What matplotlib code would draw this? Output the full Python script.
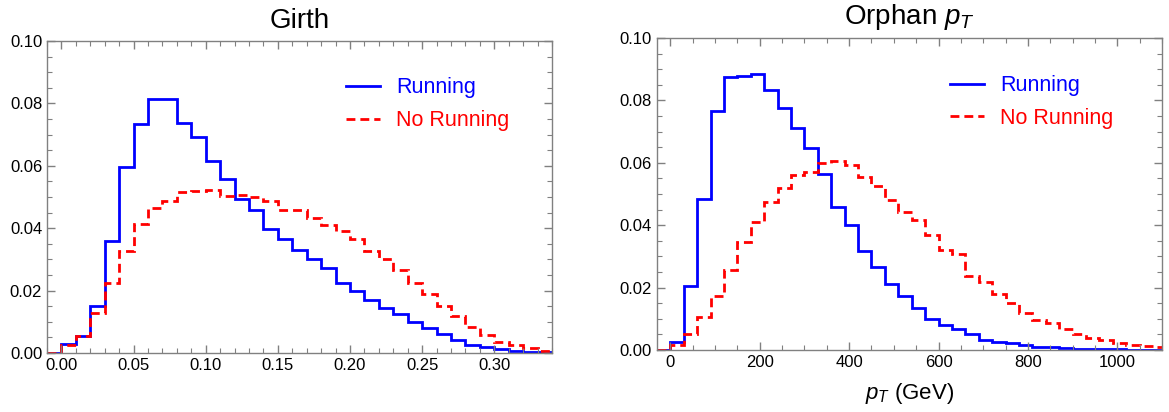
import numpy as np
import matplotlib
matplotlib.use("Agg")
import matplotlib.pyplot as plt
from matplotlib.ticker import MultipleLocator, FormatStrFormatter

plt.rcParams['font.family'] = ['Liberation Sans', 'DejaVu Sans']
plt.rcParams['mathtext.fontset'] = 'custom'
plt.rcParams['mathtext.it'] = 'Liberation Sans:italic'
plt.rcParams['mathtext.rm'] = 'Liberation Sans'

# Girth histogram (bin width 0.01, from -0.01 to 0.34)
girth_edges = np.round(np.arange(-0.01, 0.3401, 0.01), 3)
girth_running = [0.0, 0.003, 0.0055, 0.015, 0.0358, 0.0597, 0.0734, 0.0814, 0.0813,
                 0.0739, 0.0693, 0.0615, 0.0559, 0.0495, 0.0458, 0.0398, 0.0367,
                 0.033, 0.030, 0.0271, 0.0225, 0.0199, 0.0171, 0.0145, 0.0126,
                 0.0099, 0.0081, 0.006, 0.0041, 0.0027, 0.0019, 0.0012, 0.0005,
                 0.0003, 0.0002]
girth_norunning = [0.0, 0.0027, 0.0053, 0.0128, 0.0226, 0.0327, 0.0413, 0.0466, 0.0488,
                   0.0517, 0.0519, 0.0524, 0.0505, 0.0508, 0.0501, 0.0487, 0.046,
                   0.0458, 0.0433, 0.0412, 0.039, 0.0365, 0.0327, 0.0303, 0.0265,
                   0.0225, 0.019, 0.0152, 0.0118, 0.0083, 0.0057, 0.0035, 0.0025,
                   0.0016, 0.0006]

# Orphan pT histogram (bin width 30 GeV, from -30 to 1110)
pt_edges = np.arange(-30, 1111, 30)
pt_running = [0.0, 0.0027, 0.0205, 0.0484, 0.0765, 0.0874, 0.0879, 0.0884, 0.0834,
              0.0775, 0.0711, 0.0649, 0.0564, 0.046, 0.040, 0.0319, 0.0267, 0.0212,
              0.0173, 0.0136, 0.0098, 0.008, 0.0066, 0.005, 0.0032, 0.0027, 0.0024,
              0.0016, 0.0011, 0.0008, 0.0005, 0.0004, 0.0003, 0.0002, 0.0002,
              0.0001, 0.0001, 0.0001]
pt_norunning = [0.0, 0.0016, 0.0051, 0.0105, 0.0174, 0.0257, 0.0345, 0.041, 0.0473,
                0.0519, 0.0561, 0.0572, 0.0599, 0.0606, 0.0594, 0.0556, 0.0525,
                0.0481, 0.0444, 0.0417, 0.0369, 0.0321, 0.0308, 0.0237, 0.0219,
                0.0179, 0.0152, 0.012, 0.0096, 0.0086, 0.0066, 0.005, 0.0037,
                0.0032, 0.0024, 0.0016, 0.0013, 0.001]

labels = ["Running", "No Running"]
frame_col = "#808080"

fig = plt.figure(figsize=(11.69, 4.12), dpi=100)
ax1 = fig.add_axes([0.0402, 0.1432, 0.432, 0.757])
ax2 = fig.add_axes([0.562, 0.1505, 0.432, 0.757])

def style(ax):
    for s in ax.spines.values():
        s.set_color(frame_col)
        s.set_linewidth(1.0)
    ax.tick_params(which='both', direction='in', top=True, right=True,
                   color=frame_col, labelsize=12, labelcolor='black')
    ax.tick_params(which='major', length=6, width=1.0)
    ax.tick_params(which='minor', length=3.5, width=0.8)
    ax.yaxis.set_major_locator(MultipleLocator(0.02))
    ax.yaxis.set_minor_locator(MultipleLocator(0.005))
    ax.yaxis.set_major_formatter(FormatStrFormatter('%.2f'))
    ax.set_ylim(0, 0.10)

dash = (0, (3.2, 1.8))

ax1.stairs(girth_running, girth_edges, color='#0000ff', lw=2.0, label=labels[0])
ax1.stairs(girth_norunning, girth_edges, color='#ff0000', lw=2.0, linestyle=dash,
           label=labels[1])
ax1.set_xlim(-0.01, 0.34)
ax1.xaxis.set_major_locator(MultipleLocator(0.05))
ax1.xaxis.set_minor_locator(MultipleLocator(0.01))
ax1.xaxis.set_major_formatter(FormatStrFormatter('%.2f'))
style(ax1)
ax1.set_title("Girth", fontsize=20, pad=9.5)

ax2.stairs(pt_running, pt_edges, color='#0000ff', lw=2.0, label=labels[0])
ax2.stairs(pt_norunning, pt_edges, color='#ff0000', lw=2.0, linestyle=dash,
           label=labels[1])
ax2.set_xlim(-30, 1100)
ax2.xaxis.set_major_locator(MultipleLocator(200))
ax2.xaxis.set_minor_locator(MultipleLocator(50))
style(ax2)
ax2.set_title("Orphan $p_T$", fontsize=20, pad=10)
ax2.set_xlabel("$p_T$ (GeV)", fontsize=16, labelpad=8)

for ax, xa, ya in ((ax1, 0.592, 0.798), (ax2, 0.580, 0.795)):
    ax.legend(loc='center left', bbox_to_anchor=(xa, ya), frameon=False,
              fontsize=15.5, handlelength=1.58, handletextpad=0.75,
              labelspacing=0.55, labelcolor='linecolor', borderaxespad=0,
              borderpad=0)

fig.savefig("out.png", dpi=100)
